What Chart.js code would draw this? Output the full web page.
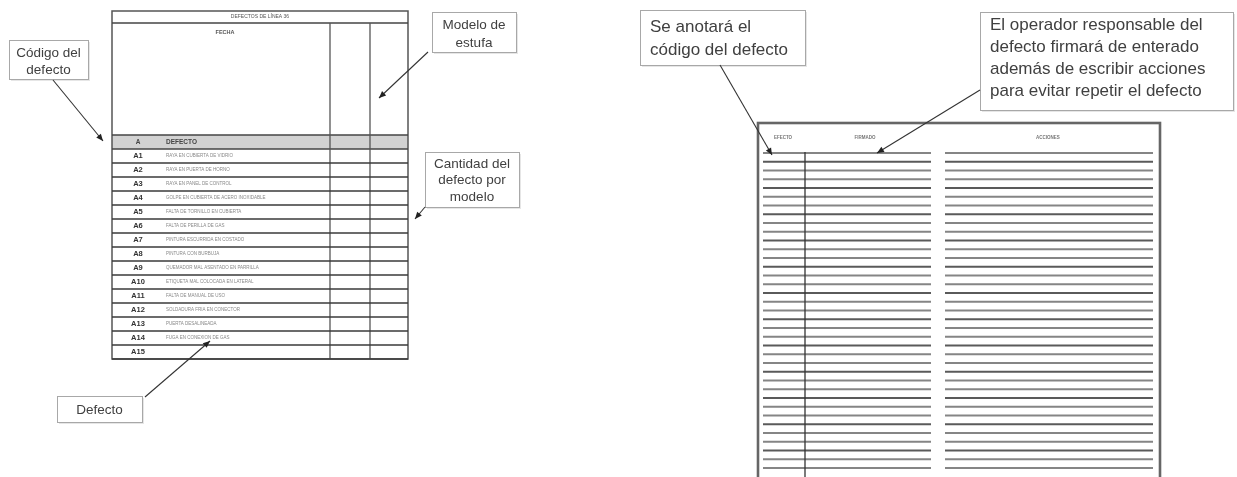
<!DOCTYPE html>
<html><head><meta charset="utf-8">
<script src="https://cdn.jsdelivr.net/npm/chart.js@4/dist/chart.umd.min.js"></script>
<style>html,body{margin:0;padding:0;background:#fff;overflow:hidden}#wrap{width:1237px;height:477px;position:relative}</style>
</head><body><div id="wrap"><canvas id="c"></canvas></div>
<script>
// ---- content (data) ----
const tableTitle = 'DEFECTOS DE LÍNEA 36';
const dateLabel = 'FECHA';
const headerCode = 'A';
const headerDesc = 'DEFECTO';
const defectCodes = ['A1','A2','A3','A4','A5','A6','A7','A8','A9','A10','A11','A12','A13','A14','A15'];
const defectNames = ['RAYA EN CUBIERTA DE VIDRIO','RAYA EN PUERTA DE HORNO','RAYA EN PANEL DE CONTROL','GOLPE EN CUBIERTA DE ACERO INOXIDABLE','FALTA DE TORNILLO EN CUBIERTA','FALTA DE PERILLA DE GAS','PINTURA ESCURRIDA EN COSTADO','PINTURA CON BURBUJA','QUEMADOR MAL ASENTADO EN PARRILLA','ETIQUETA MAL COLOCADA EN LATERAL','FALTA DE MANUAL DE USO','SOLDADURA FRIA EN CONECTOR','PUERTA DESALINEADA','FUGA EN CONEXION DE GAS',''];
const formHeaders = ['EFECTO','FIRMADO','ACCIONES'];
const formRowCount = 37;
const calloutTexts = [
  ['Código del','defecto'],
  ['Modelo de','estufa'],
  ['Cantidad del','defecto por','modelo'],
  ['Defecto'],
  ['Se anotará el','código del defecto'],
  ['El operador responsable del','defecto firmará de enterado','además de escribir acciones','para evitar repetir el defecto']
];

// ---- layout (positions / styles) ----
const L = {
  tbl:{x0:112,x1:408,top:11,titleB:23,hdrT:135,hdrB:149,rowH:14,v1:330,v2:370,codeX:138,descX:166},
  form:{x0:758,x1:1160,top:123,bot:481,hdrY:138,hdrX:[783,865,1048],first:153,step:8.75,lA:763,lB:931,rA:945,rB:1153,vx:805},
  callouts:[
    {x:9,y:40,w:79,h:39,align:'center',fs:13.5,lh:17,ty:53,lead:[53,80,103,141]},
    {x:432,y:12,w:84,h:40,align:'center',fs:13.5,lh:18,ty:25,lead:[428,52,379,98]},
    {x:425,y:152,w:94,h:55,align:'center',fs:13.5,lh:16.5,ty:164,lead:[425,207,415,219]},
    {x:57,y:396,w:85,h:26,align:'center',fs:13.5,lh:17,ty:410,lead:[145,397,210,341]},
    {x:640,y:10,w:165,h:55,align:'left',fs:17,lh:23,ty:27,lead:[720,65,772,155]},
    {x:980,y:12,w:253,h:98,align:'left',fs:17,lh:22,ty:25,lead:[980,90,877,153]}
  ]
};

const drawPlugin = {
  id:'formDraw',
  afterDraw(chart){
    const ctx = chart.ctx, sx = chart.scales.x, sy = chart.scales.y;
    const X = v => sx.getPixelForValue(v), Y = v => sy.getPixelForValue(v);
    const line = (x0,y0,x1,y1,c,w) => {ctx.beginPath();ctx.strokeStyle=c;ctx.lineWidth=w;ctx.moveTo(X(x0),Y(y0));ctx.lineTo(X(x1),Y(y1));ctx.stroke();};
    ctx.save();
    ctx.textBaseline='middle';
    // ---- left table ----
    const t = L.tbl;
    const rowsB = t.hdrB + defectCodes.length*t.rowH;
    ctx.fillStyle='#d2d2d2';
    ctx.fillRect(X(t.x0),Y(t.hdrT),X(t.x1)-X(t.x0),Y(t.hdrB)-Y(t.hdrT));
    ctx.strokeStyle='#555';ctx.lineWidth=1.5;
    ctx.strokeRect(X(t.x0),Y(t.top),X(t.x1)-X(t.x0),Y(rowsB)-Y(t.top));
    line(t.x0,t.titleB,t.x1,t.titleB,'#444',1.7);
    line(t.x0,t.hdrT,t.x1,t.hdrT,'#444',1.7);
    line(t.x0,t.hdrB,t.x1,t.hdrB,'#444',1.6);
    line(t.v1,t.titleB,t.v1,rowsB,'#555',1.3);
    line(t.v2,t.titleB,t.v2,rowsB,'#555',1.3);
    defectCodes.forEach((c,i)=>{
      const yb = t.hdrB+(i+1)*t.rowH, ym = yb - t.rowH/2;
      line(t.x0,yb,t.x1,yb,'#3a3a3a',1.7);
      ctx.fillStyle='#333';ctx.font='bold 7.5px "Liberation Sans", Arial';ctx.textAlign='center';
      ctx.fillText(c,X(t.codeX),Y(ym));
      ctx.fillStyle='#888';ctx.font='4.5px "Liberation Sans", Arial';ctx.textAlign='left';
      ctx.fillText(defectNames[i],X(t.descX),Y(ym));
    });
    ctx.fillStyle='#444';ctx.font='bold 6.5px "Liberation Sans", Arial';
    ctx.textAlign='center';ctx.fillText(headerCode,X(t.codeX),Y((t.hdrT+t.hdrB)/2));
    ctx.textAlign='left';ctx.fillText(headerDesc,X(t.descX),Y((t.hdrT+t.hdrB)/2));
    ctx.font='5px "Liberation Sans", Arial';ctx.fillStyle='#555';ctx.textAlign='center';
    ctx.fillText(tableTitle,X((t.x0+t.x1)/2),Y((t.top+t.titleB)/2));
    ctx.font='bold 5.5px "Liberation Sans", Arial';
    ctx.fillText(dateLabel,X(225),Y(32));
    // ---- right form ----
    const f = L.form;
    for(let i=0;i<formRowCount;i++){
      const y = f.first + i*f.step;
      const col = i%3===1 ? '#5a5a5a' : '#858585';
      line(f.lA,y,f.lB,y,col,1.8);
      line(f.rA,y,f.rB,y,col,1.8);
    }
    line(f.vx,f.first-1,f.vx,f.bot,'#333',1.3);
    ctx.strokeStyle='#666';ctx.lineWidth=2.6;
    ctx.strokeRect(X(f.x0),Y(f.top),X(f.x1)-X(f.x0),Y(f.bot)-Y(f.top));
    ctx.fillStyle='#777';ctx.font='bold 4.5px "Liberation Sans", Arial';ctx.textAlign='center';
    formHeaders.forEach((h,i)=>ctx.fillText(h,X(f.hdrX[i]),Y(f.hdrY)));
    // ---- callouts ----
    L.callouts.forEach((c,i)=>{
      ctx.fillStyle='#e6e6e6';
      ctx.fillRect(X(c.x)+2,Y(c.y)+2,X(c.x+c.w)-X(c.x),Y(c.y+c.h)-Y(c.y));
      ctx.fillStyle='#fff';
      ctx.fillRect(X(c.x),Y(c.y),X(c.x+c.w)-X(c.x),Y(c.y+c.h)-Y(c.y));
      ctx.strokeStyle='#a8a8a8';ctx.lineWidth=1;
      ctx.strokeRect(X(c.x)+0.5,Y(c.y)+0.5,X(c.x+c.w)-X(c.x),Y(c.y+c.h)-Y(c.y));
      ctx.fillStyle='#404040';ctx.font=c.fs+'px "Liberation Sans", Arial';
      ctx.textAlign=c.align;
      const tx = c.align==='center' ? c.x+c.w/2 : c.x+10;
      calloutTexts[i].forEach((s,k)=>ctx.fillText(s,X(tx),Y(c.ty+k*c.lh)));
      const [a,b,d,e] = c.lead;
      line(a,b,d,e,'#333',1.1);
      const ang = Math.atan2(Y(e)-Y(b),X(d)-X(a));
      ctx.beginPath();ctx.fillStyle='#222';
      ctx.moveTo(X(d),Y(e));
      ctx.lineTo(X(d)-7*Math.cos(ang)+3*Math.sin(ang),Y(e)-7*Math.sin(ang)-3*Math.cos(ang));
      ctx.lineTo(X(d)-7*Math.cos(ang)-3*Math.sin(ang),Y(e)-7*Math.sin(ang)+3*Math.cos(ang));
      ctx.closePath();ctx.fill();
    });
    ctx.restore();
  }
};

new Chart(document.getElementById('c'),{
  type:'scatter',
  data:{datasets:[{data:[],pointRadius:0}]},
  options:{
    responsive:true,maintainAspectRatio:false,animation:false,devicePixelRatio:1,
    layout:{padding:0},
    plugins:{legend:{display:false},tooltip:{enabled:false}},
    scales:{
      x:{type:'linear',min:0,max:1237,display:false},
      y:{type:'linear',min:0,max:477,reverse:true,display:false}
    }
  },
  plugins:[drawPlugin]
});
</script></body></html>
